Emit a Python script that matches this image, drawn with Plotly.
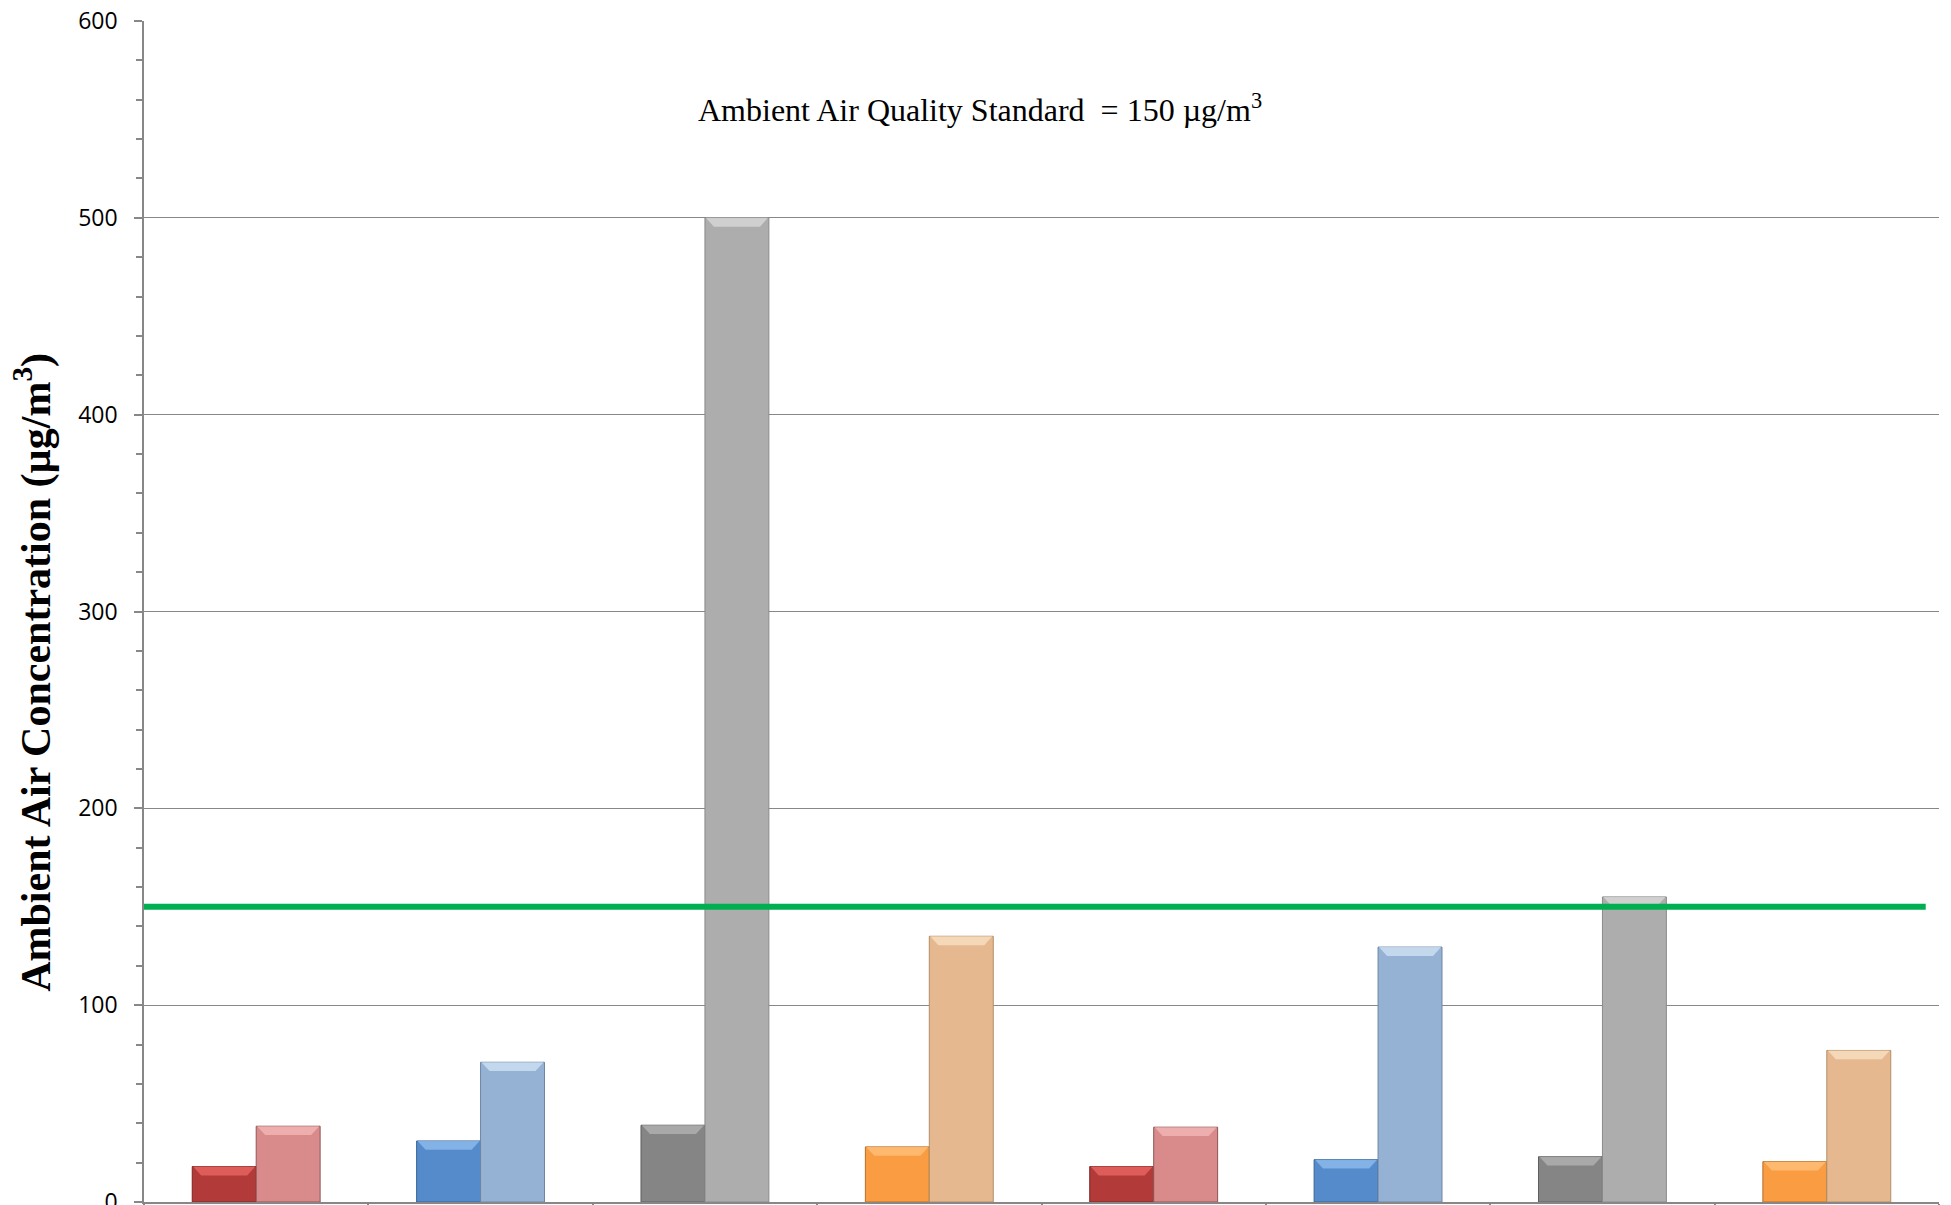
import plotly.graph_objects as go

# Sampling sites (category axis, labels not shown)
categories = ["Site 1", "Site 2", "Site 3", "Site 4", "Site 5", "Site 6", "Site 7", "Site 8"]

# Concentrations in µg/m³ for the two measurements at each site
low_values = [18, 31, 39, 28, 18, 21.5, 23, 20.5]
high_values = [38.5, 71, 500, 135, 38, 129.5, 155, 77]

# Ambient air quality standard (µg/m³)
standard = 150

# Per-site colour families (dark / light / bevel highlights)
dark_colors = ["#B23A38", "#558BCB", "#858585", "#F99C42",
               "#B23A38", "#558BCB", "#858585", "#F99C42"]
light_colors = ["#D98A8A", "#95B2D4", "#ADADAD", "#E6B890",
                "#D98A8A", "#95B2D4", "#ADADAD", "#E6B890"]
dark_edges = ["#7A2523", "#3A6394", "#5E5E5E", "#B86E2A",
              "#7A2523", "#3A6394", "#5E5E5E", "#B86E2A"]
light_edges = ["#8E5656", "#6E86A6", "#8A8A8A", "#B48C66",
               "#8E5656", "#6E86A6", "#8A8A8A", "#B48C66"]
dark_hi = ["#E86664", "#8DBBEC", "#B2B2B2", "#FFC07A",
           "#E86664", "#8DBBEC", "#B2B2B2", "#FFC07A"]
light_hi = ["#F2B6B6", "#CFE1F3", "#D8D8D8", "#F8E0C0",
            "#F2B6B6", "#CFE1F3", "#D8D8D8", "#F8E0C0"]

GRID = "#878787"
BAR_W = 0.285  # width of each bar in category units

fig = go.Figure()
fig.add_trace(go.Bar(
    x=categories, y=low_values, width=BAR_W, offset=-BAR_W,
    marker=dict(color=dark_colors, line=dict(color=dark_edges, width=1)),
    showlegend=False,
))
fig.add_trace(go.Bar(
    x=categories, y=high_values, width=BAR_W, offset=0,
    marker=dict(color=light_colors, line=dict(color=light_edges, width=1)),
    showlegend=False,
))

# Bevel highlight on top of each bar
shapes = []
bevel_h = 4.5   # data units
bevel_in = 0.04  # category units
for i in range(len(categories)):
    for x0, v, col in ((i - BAR_W, low_values[i], dark_hi[i]),
                       (i, high_values[i], light_hi[i])):
        x1 = x0 + BAR_W
        path = (f"M {x0 + 0.004},{v} L {x1 - 0.004},{v} "
                f"L {x1 - bevel_in},{v - bevel_h} L {x0 + bevel_in},{v - bevel_h} Z")
        shapes.append(dict(type="path", xref="x", yref="y", path=path,
                           fillcolor=col, line=dict(width=0), opacity=0.8,
                           layer="above"))

# Standard line
shapes.append(dict(type="line", xref="paper", yref="y", x0=0, x1=0.9926,
                   y0=standard, y1=standard,
                   line=dict(color="#00B050", width=6), layer="above"))

fig.update_layout(
    width=1951, height=1205,
    margin=dict(l=144, r=12, t=21, b=3, autoexpand=False),
    paper_bgcolor="white", plot_bgcolor="white",
    barmode="overlay",
    shapes=shapes,
    xaxis=dict(
        type="category", range=[-0.5, 7.5], automargin=False,
        showticklabels=False, showgrid=False,
        showline=True, linecolor=GRID, linewidth=1.5,
        ticks="outside", tickson="boundaries", ticklen=12,
        tickcolor=GRID, tickwidth=1.5,
    ),
    yaxis=dict(
        range=[0, 600], dtick=100, automargin=False,
        showgrid=True, gridcolor=GRID, gridwidth=1.3,
        showline=True, linecolor=GRID, linewidth=1.5,
        ticks="outside", ticklen=8, tickcolor=GRID, tickwidth=1.5,
        ticklabelstandoff=12, ticklabeloverflow="allow",
        minor=dict(dtick=20, ticks="outside", ticklen=6,
                   tickcolor=GRID, tickwidth=1.5, showgrid=False),
        tickfont=dict(family="Open Sans", size=23, color="black"),
        zeroline=False,
    ),
    yaxis2=dict(
        overlaying="y", side="left", range=[0, 600], automargin=False,
        showgrid=False, showline=False, showticklabels=False, ticks="",
        minor=dict(dtick=20, ticks="inside", ticklen=7,
                   tickcolor=GRID, tickwidth=1.5, showgrid=False),
        zeroline=False,
    ),
    annotations=[
        dict(text="<b>Ambient Air Concentration (µg/m<sup>3</sup>)</b>",
             textangle=-90, xref="paper", yref="paper",
             x=-0.0615, y=0.4486, xanchor="center", yanchor="middle",
             showarrow=False,
             font=dict(family="Liberation Serif", size=42, color="black")),
        dict(text="Ambient Air Quality Standard \u00a0= 150 µg/m<sup>3</sup>",
             xref="paper", yref="paper", x=0.4655, y=0.9263,
             xanchor="center", yanchor="middle", showarrow=False,
             font=dict(family="Liberation Serif", size=32, color="black")),
    ],
)

fig.write_html("out.html")
